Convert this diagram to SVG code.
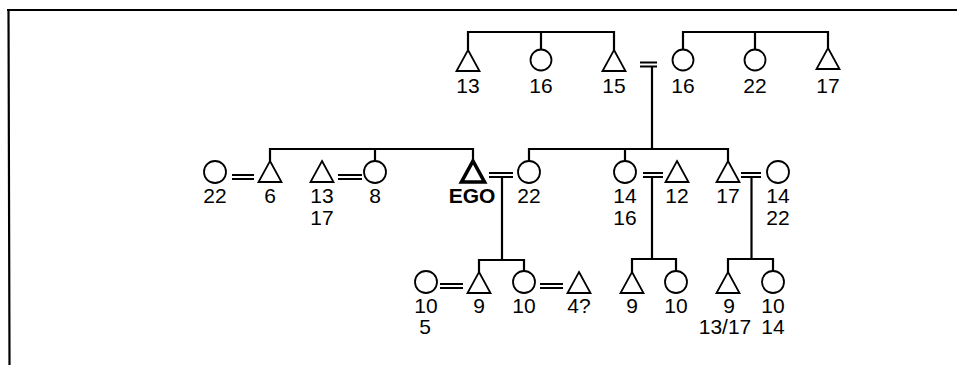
<svg xmlns="http://www.w3.org/2000/svg" xmlns:xlink="http://www.w3.org/1999/xlink" width="957" height="365" viewBox="0 0 957 365">
<style>
.s{fill:none;stroke:#000;stroke-width:1.8}
.ego{fill:none;stroke:#000;stroke-width:3.6;stroke-linejoin:miter}
.ln{fill:none;stroke:#000;stroke-width:2.2}
.eq{fill:none;stroke:#000;stroke-width:1.8}
text{font-family:"Liberation Sans",Arial,Helvetica,sans-serif;font-size:21px;text-anchor:middle;fill:#000}
.b{font-weight:bold}
</style>
<defs>
<path id="tri" d="M0,0 L11.5,21 L-11.5,21 Z"/>
</defs>
<rect width="957" height="365" fill="#fff"/>
<g id="frame">
<path class="ln" d="M7,10 H957 M8.5,10 L9.5,365"/>
</g>
<g id="connectors">
<path class="ln" d="M468,50 V32 H614 V50 M541,32 V49.5"/>
<path class="ln" d="M683,49.5 V32 H828 V48 M755,32 V49.5"/>
<path class="eq" d="M640,62.5 H657 M640,66.5 H657"/>
<path class="ln" d="M652,66.5 V149"/>
<path class="ln" d="M270,161 V149 H473 V160 M375,149 V161"/>
<path class="ln" d="M529,161 V149 H728 V161 M625,149 V161"/>
<path class="eq" d="M232,175 H254 M232,179 H254"/>
<path class="eq" d="M338,175 H362 M338,179 H362"/>
<path class="eq" d="M489,173 H513 M489,177 H513"/>
<path class="ln" d="M502,177 V260"/>
<path class="eq" d="M643,173 H663 M643,177 H663"/>
<path class="ln" d="M652,177 V259"/>
<path class="eq" d="M741,173 H761 M741,177 H761"/>
<path class="ln" d="M751.5,177 V259"/>
<path class="ln" d="M479,272 V260 H524 V271"/>
<path class="ln" d="M632,272 V259 H676 V271"/>
<path class="ln" d="M728,272 V259 H773 V271"/>
<path class="eq" d="M440,284 H463 M440,288 H463"/>
<path class="eq" d="M540,284 H563 M540,288 H563"/>
</g>
<g id="n-g1-13"><use href="#tri" x="468" y="50" class="s"/><text x="468" y="93">13</text></g>
<g id="n-g1-16a"><circle cx="541" cy="60" r="10.5" class="s"/><text x="541" y="93">16</text></g>
<g id="n-g1-15"><use href="#tri" x="614" y="50" class="s"/><text x="614" y="93">15</text></g>
<g id="n-g1-16b"><circle cx="683" cy="60" r="10.5" class="s"/><text x="683" y="93">16</text></g>
<g id="n-g1-22"><circle cx="755" cy="60" r="10.5" class="s"/><text x="755" y="93">22</text></g>
<g id="n-g1-17"><use href="#tri" x="828" y="48" class="s"/><text x="828" y="93">17</text></g>

<g id="n-g2-22a"><circle cx="215" cy="172" r="11" class="s"/><text x="215" y="203">22</text></g>
<g id="n-g2-6"><use href="#tri" x="270" y="161" class="s"/><text x="270" y="203">6</text></g>
<g id="n-g2-13"><use href="#tri" x="322" y="161" class="s"/><text x="322" y="203">13</text><text x="322" y="225">17</text></g>
<g id="n-g2-8"><circle cx="375" cy="172" r="11" class="s"/><text x="375" y="203">8</text></g>
<g id="n-ego"><use href="#tri" x="473" y="161" class="ego"/><text x="472" y="203" class="b">EGO</text></g>
<g id="n-g2-22b"><circle cx="529" cy="172" r="11" class="s"/><text x="529" y="203">22</text></g>
<g id="n-g2-14a"><circle cx="625" cy="172" r="11" class="s"/><text x="625" y="203">14</text><text x="625" y="225">16</text></g>
<g id="n-g2-12"><use href="#tri" x="677" y="161" class="s"/><text x="677" y="203">12</text></g>
<g id="n-g2-17"><use href="#tri" x="728" y="161" class="s"/><text x="728" y="203">17</text></g>
<g id="n-g2-14b"><circle cx="778" cy="172" r="11" class="s"/><text x="778" y="203">14</text><text x="778" y="225">22</text></g>

<g id="n-g3-10a"><circle cx="426" cy="282" r="11" class="s"/><text x="426" y="313">10</text><text x="425" y="334">5</text></g>
<g id="n-g3-9a"><use href="#tri" x="479" y="272" class="s"/><text x="479" y="313">9</text></g>
<g id="n-g3-10b"><circle cx="524" cy="282" r="11" class="s"/><text x="524" y="313">10</text></g>
<g id="n-g3-4"><use href="#tri" x="579" y="272" class="s"/><text x="579" y="313">4?</text></g>
<g id="n-g3-9b"><use href="#tri" x="632" y="272" class="s"/><text x="632" y="313">9</text></g>
<g id="n-g3-10c"><circle cx="676" cy="282" r="11" class="s"/><text x="676" y="313">10</text></g>
<g id="n-g3-9c"><use href="#tri" x="728" y="272" class="s"/><text x="729" y="313">9</text><text x="725" y="334">13/17</text></g>
<g id="n-g3-10d"><circle cx="773" cy="282" r="11" class="s"/><text x="773" y="313">10</text><text x="773" y="334">14</text></g>
</svg>
